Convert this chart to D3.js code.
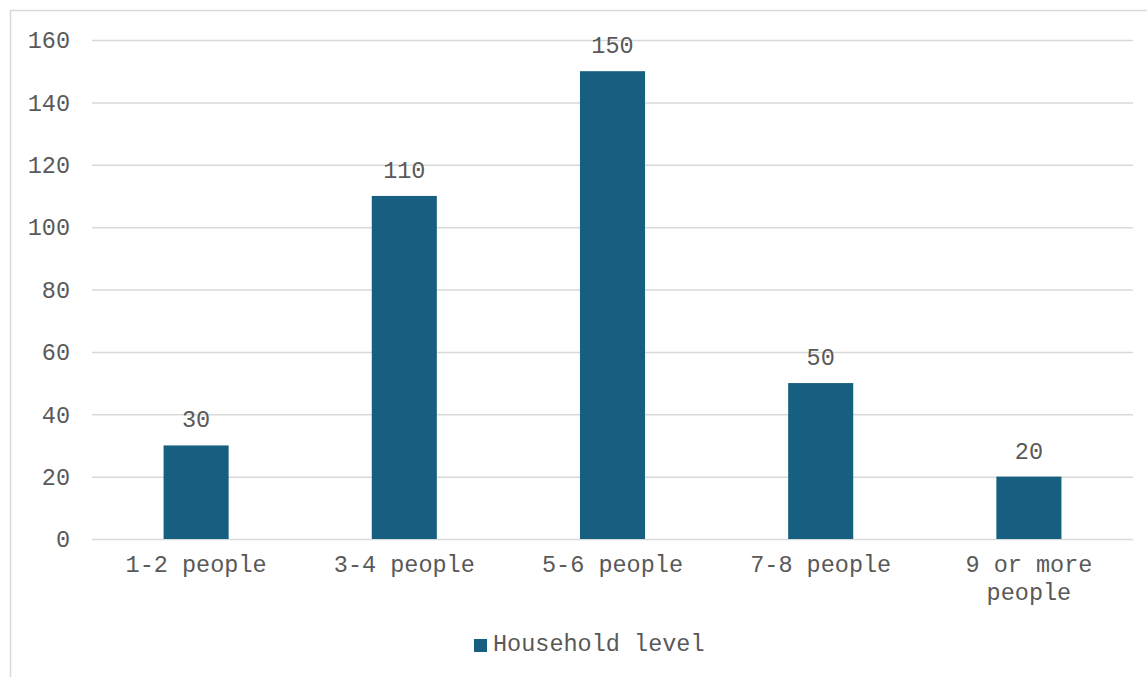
<!DOCTYPE html>
<html>
<head>
<meta charset="utf-8">
<script src="https://cdn.jsdelivr.net/npm/d3@7"></script>
<style>
  html, body { margin: 0; padding: 0; background: #ffffff; }
  svg { display: block; }
  text { font-family: "Liberation Mono", "Courier New", monospace; fill: #595959; }
</style>
</head>
<body>
<svg id="chart" width="1147" height="677"></svg>
<script>
// Household size distribution
const categories = ["1-2 people", "3-4 people", "5-6 people", "7-8 people", "9 or more people"];
const householdLevel = [30, 110, 150, 50, 20];
const yTicks = [0, 20, 40, 60, 80, 100, 120, 140, 160];
const seriesName = "Household level";

const W = 1147, H = 677;
const plot = { left: 92, right: 1133, top: 40, bottom: 539 };
const barColor = "#165f80";
const gridColor = "#d9d9d9";
const fontSize = 23.5;

const svg = d3.select("#chart");

// outer chart frame (top and left edges visible)
svg.append("rect")
  .attr("x", 10.5).attr("y", 10.5)
  .attr("width", W).attr("height", H)
  .attr("fill", "none")
  .attr("stroke", gridColor)
  .attr("stroke-width", 1.5);

const x = d3.scaleBand()
  .domain(categories)
  .range([plot.left, plot.right])
  .paddingInner(0.6875)
  .paddingOuter(0.34375);

const y = d3.scaleLinear()
  .domain([0, 160])
  .range([plot.bottom, plot.top]);

// horizontal gridlines + value labels
const yAxis = d3.axisLeft(y)
  .tickValues(yTicks)
  .tickSize(-(plot.right - plot.left))
  .tickPadding(22);

const gy = svg.append("g")
  .attr("transform", `translate(${plot.left},0)`)
  .call(yAxis);
gy.select(".domain").remove();
gy.selectAll(".tick line")
  .attr("stroke", gridColor)
  .attr("stroke-width", 1.5);
gy.selectAll(".tick text")
  .attr("font-size", fontSize)
  .attr("fill", "#595959")
  .attr("dy", "0.33em")
  .style("font-family", '"Liberation Mono", "Courier New", monospace');

// bars
svg.append("g")
  .selectAll("rect")
  .data(householdLevel)
  .join("rect")
  .attr("x", (d, i) => x(categories[i]))
  .attr("y", d => y(d))
  .attr("width", x.bandwidth())
  .attr("height", d => y(0) - y(d))
  .attr("fill", barColor);

// data labels above bars
svg.append("g")
  .selectAll("text")
  .data(householdLevel)
  .join("text")
  .attr("x", (d, i) => x(categories[i]) + x.bandwidth() / 2)
  .attr("y", d => y(d) - 18)
  .attr("text-anchor", "middle")
  .attr("font-size", fontSize)
  .text(d => d);

// category labels (wrapped to fit the band)
const xAxis = d3.axisBottom(x).tickSize(0).tickPadding(0).tickFormat(() => "");
const gx = svg.append("g")
  .attr("transform", `translate(0,${plot.bottom})`)
  .call(xAxis);
gx.select(".domain").remove();

const maxChars = 12;
function wrap(label) {
  const words = label.split(" ");
  const lines = [];
  let cur = "";
  words.forEach(w => {
    const next = cur ? cur + " " + w : w;
    if (next.length > maxChars && cur) { lines.push(cur); cur = w; }
    else cur = next;
  });
  if (cur) lines.push(cur);
  return lines;
}

gx.selectAll(".tick").each(function(d) {
  const t = d3.select(this).select("text")
    .attr("y", 0)
    .attr("dy", null)
    .attr("font-size", fontSize)
    .attr("fill", "#595959")
    .style("font-family", '"Liberation Mono", "Courier New", monospace')
    .text(null);
  wrap(d).forEach((line, i) => {
    t.append("tspan")
      .attr("x", 0)
      .attr("y", 33 + i * 28)
      .text(line);
  });
});

// legend
const legend = svg.append("g");
legend.append("rect")
  .attr("x", 474).attr("y", 639)
  .attr("width", 13).attr("height", 13)
  .attr("fill", barColor);
legend.append("text")
  .attr("x", 493).attr("y", 651)
  .attr("font-size", fontSize)
  .text(seriesName);
</script>
</body>
</html>
